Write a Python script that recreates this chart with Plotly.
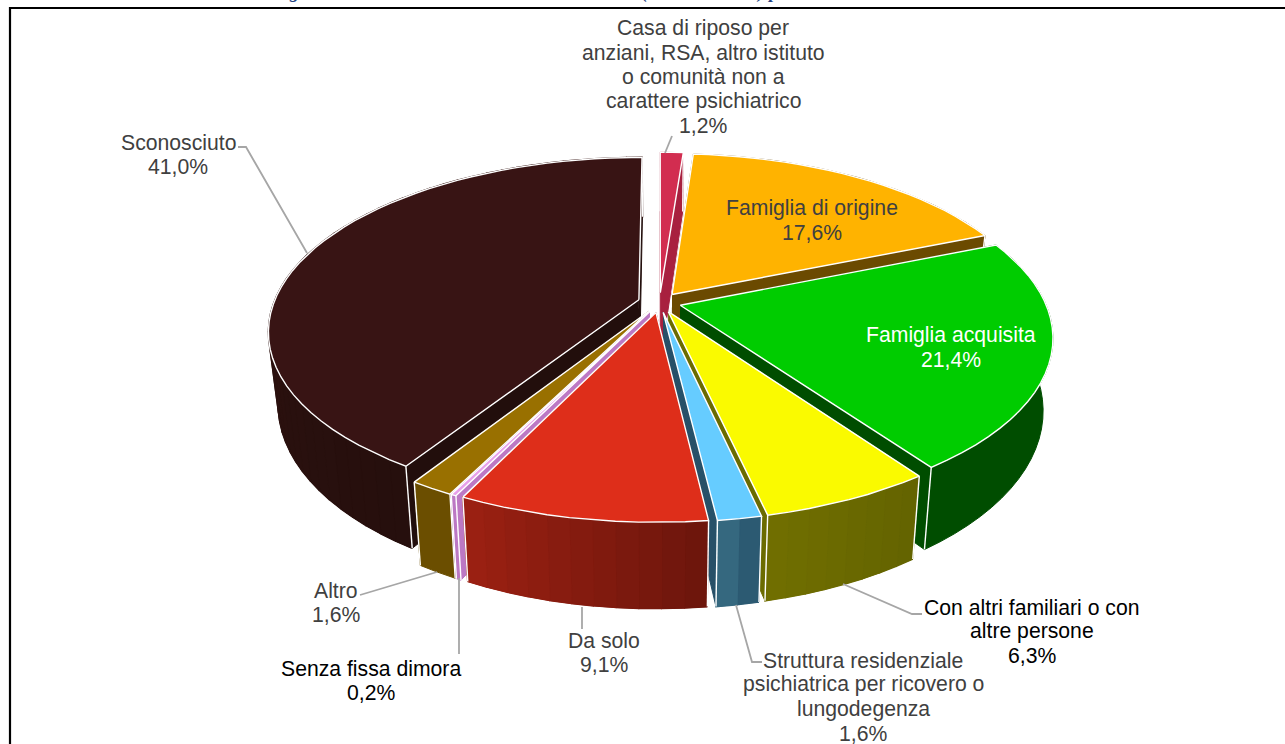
import math
import plotly.graph_objects as go

# ---- data ----
categories = ["Casa di riposo", "Famiglia di origine", "Famiglia acquisita",
              "Con altri familiari o con altre persone",
              "Struttura residenziale", "Da solo", "Senza fissa dimora",
              "Altro", "Sconosciuto"]
values = [1.2, 17.6, 21.4, 6.3, 1.6, 9.1, 0.2, 1.6, 41.0]
value_labels = ["1,2%", "17,6%", "21,4%", "6,3%", "1,6%", "9,1%", "0,2%", "1,6%", "41,0%"]

# ---- styling ----
top_colors = ["#D22D50", "#FFB300", "#00CC00", "#FAFA00", "#66CCFF", "#DE2E1A", "#E8A0EA", "#997000", "#381414"]
side_colors = ["#A8203F", "#6B4A00", "#004D00", "#6B6B00", "#275068", "#6E160C", "#BC78C4", "#6B4E00", "#220E0C"]
wall_start = ["#A8203F", "#6B4A00", "#004D00", "#646400", "#2C5A72", "#6E160C", "#BC78C4", "#6B4E00", "#260F0D"]
wall_end = ["#A8203F", "#6B4A00", "#004D00", "#706E00", "#35687F", "#9A2012", "#BC78C4", "#6B4E00", "#361513"]

CX, CY = 659.5, 302.5   # pie centre on screen
R, EXPL = 365, 21.5     # radius and slice explosion
DIST, CAM, WALL = 2050, 947, 70   # perspective camera and pie thickness
TAPER = 0.025           # the lower face looks slightly narrower
STEP = 3


def project(X, Y, z=0):
    s = DIST / (DIST + Y)
    return CX + X * s * (1 - TAPER * z / WALL), CY - CAM + (CAM + z) * s


def hex_mix(a, b, t):
    ca = [int(a[i:i + 2], 16) for i in (1, 3, 5)]
    cb = [int(b[i:i + 2], 16) for i in (1, 3, 5)]
    return "#" + "".join(f"{round(p + (q - p) * t):02X}" for p, q in zip(ca, cb))


def poly(pts, color, line=None, width=1.0):
    return go.Scatter(x=[p[0] for p in pts], y=[p[1] for p in pts], mode="lines",
                      fill="toself", fillcolor=color,
                      line=dict(color=line or color, width=width),
                      hoverinfo="skip", showlegend=False)


def path(pts, color="#FFFFFF", width=1.4):
    return go.Scatter(x=[p[0] for p in pts], y=[p[1] for p in pts], mode="lines",
                      line=dict(color=color, width=width),
                      hoverinfo="skip", showlegend=False)


# build slices from the values
slices = []
start = 0.0
total = sum(values)
for i, v in enumerate(values):
    a0 = start / total * 2 * math.pi
    a1 = (start + v) / total * 2 * math.pi
    start += v
    mid = (a0 + a1) / 2
    ox, oy = EXPL * math.sin(mid), EXPL * math.cos(mid)
    n = max(2, int(math.degrees(a1 - a0) / STEP) + 1)
    angs = [a0 + (a1 - a0) * k / n for k in range(n + 1)]
    rim = [(ox + R * math.sin(a), oy + R * math.cos(a)) for a in angs]
    slices.append(dict(i=i, ox=ox, oy=oy, rim=rim, mid=mid))

fig = go.Figure()
for sl in sorted(slices, key=lambda d: -math.cos(d["mid"])):
    i, ox, oy, rim = sl["i"], sl["ox"], sl["oy"], sl["rim"]
    # radial walls
    for end in (rim[0], rim[-1]):
        fig.add_trace(poly([project(ox, oy), project(*end), project(*end, WALL), project(ox, oy, WALL)],
                           side_colors[i]))
    # outer wall: one solid band, then shaded strips if the colour changes along it
    band = [project(*p) for p in rim] + [project(*p, WALL) for p in reversed(rim)]
    fig.add_trace(poly(band, hex_mix(wall_start[i], wall_end[i], 0.5)))
    if wall_start[i] != wall_end[i]:
        m = len(rim) - 1
        for k in range(m):
            p, q = rim[k], rim[k + 1]
            col = hex_mix(wall_start[i], wall_end[i], k / max(1, m - 1))
            fig.add_trace(poly([project(*p), project(*q), project(*q, WALL), project(*p, WALL)], col, width=1.6))
    # wall corner highlights
    for end in (rim[0], rim[-1]):
        fig.add_trace(path([project(*end), project(*end, WALL)]))
    # top face
    outline = [project(ox, oy)] + [project(*p) for p in rim] + [project(ox, oy)]
    fig.add_trace(poly(outline, top_colors[i], line="#FFFFFF", width=1.4))

# ---- frame and clipped caption ----
GREY = "#404040"
LEAD = "#A6A6A6"
FS = 21.2
leaders = [
    [(672, 136), (665, 153)],
    [(238, 147), (246, 147), (307, 253)],
    [(360, 595), (437, 572)],
    [(459, 578), (459, 654)],
    [(582, 607), (582, 629)],
    [(736, 605), (752, 662), (762, 662)],
    [(843, 584), (912, 614), (922, 614)],
]
for ln in leaders:
    fig.add_trace(path(ln, LEAD, 1.8))

fig.add_trace(path([(10, 744), (10, 8), (1285, 8)], "#000000", 2.2))

labels = [
    (703, 28, ["Casa di riposo per", "anziani, RSA, altro istituto", "o comunità non a", "carattere psichiatrico"], 0, GREY),
    (812, 208, ["Famiglia di origine"], 1, GREY),
    (951, 335, ["Famiglia acquisita"], 2, "#FFFFFF"),
    (1032, 607, ["Con altri familiari o con", "altre persone"], 3, "#000000"),
    (863, 660, ["Struttura residenziale", "psichiatrica per ricovero o", "lungodegenza"], 4, GREY),
    (604, 640, ["Da solo"], 5, GREY),
    (371, 668, ["Senza fissa dimora"], 6, "#000000"),
    (336, 590, ["Altro"], 7, GREY),
    (178, 142, ["Sconosciuto"], 8, GREY),
]
annotations = []
for x, y, lines, idx, col in labels:
    for k, t in enumerate(lines + [value_labels[idx]]):
        annotations.append(dict(x=x, y=y + k * 24.4, text=t, xref="x", yref="y", showarrow=False,
                                xanchor="center", yanchor="middle",
                                font=dict(family="Liberation Sans", size=FS, color=col)))

annotations.append(dict(x=0.50, y=1, xref="paper", yref="paper", yanchor="bottom", yshift=-5,
                        showarrow=False,
                        text="<b><i>Figura 1.1.1: Modalità di Condizione abitativa (valori assoluti) per condizione abitativa attuale</i></b>",
                        font=dict(family="Liberation Serif", size=19, color="#1F3F7F")))

fig.update_layout(width=1285, height=744, margin=dict(l=0, r=0, t=0, b=0),
                  paper_bgcolor="white", plot_bgcolor="white", showlegend=False,
                  xaxis=dict(range=[0, 1285], visible=False, fixedrange=True),
                  yaxis=dict(range=[744, 0], visible=False, fixedrange=True),
                  annotations=annotations)
fig.write_html("out.html", post_script="document.body.style.margin='0';document.body.style.overflow='hidden';",
               config={"displayModeBar": False})
